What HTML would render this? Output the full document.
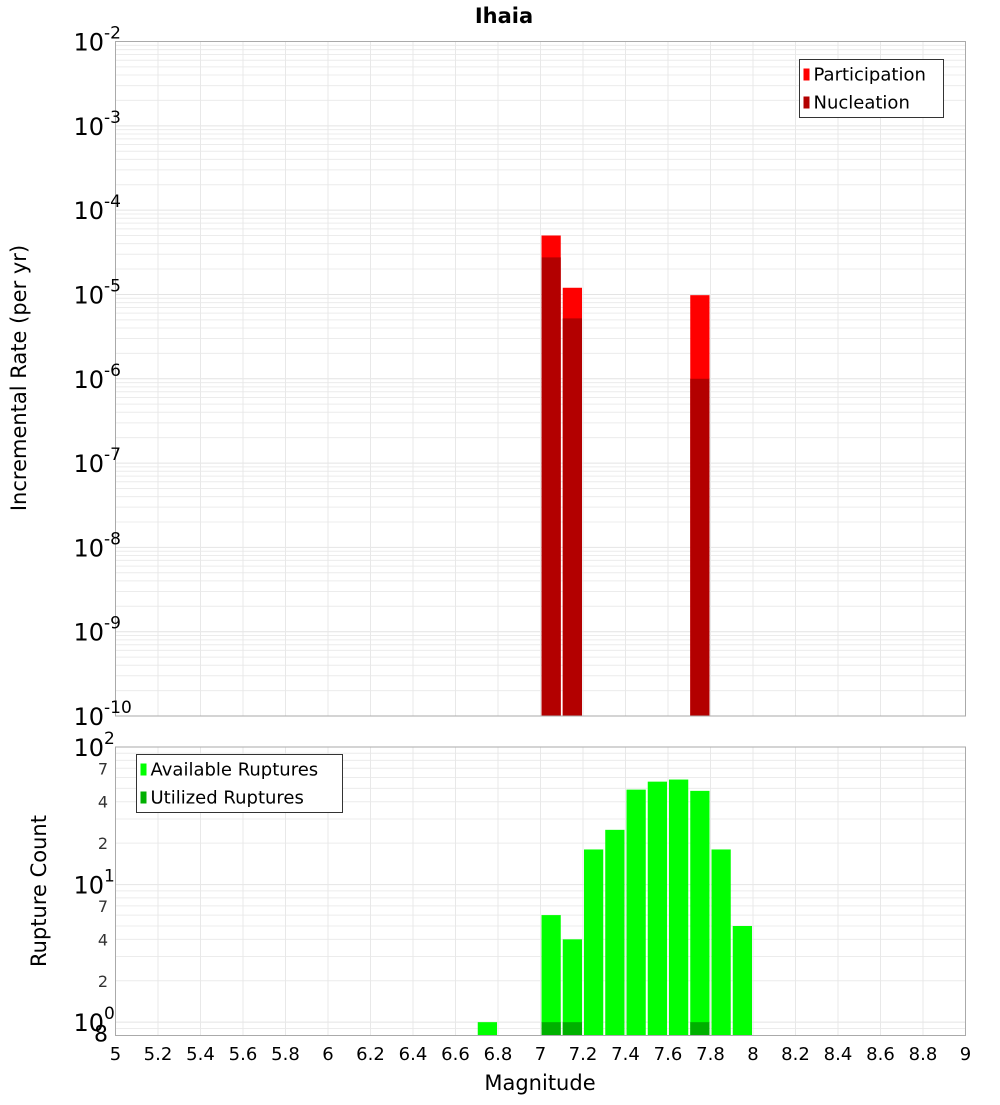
<!DOCTYPE html>
<html><head><meta charset="utf-8"><style>
body{margin:0;background:#fff;width:1000px;height:1100px;overflow:hidden}
svg{font-family:"DejaVu Sans","Liberation Sans",sans-serif}
</style></head><body>
<svg id="chart" width="1000" height="1100" xmlns="http://www.w3.org/2000/svg">
<text x="504" y="23" font-size="21" font-weight="bold" text-anchor="middle">Ihaia</text>
<text transform="translate(26,378) rotate(-90)" font-size="21" text-anchor="middle">Incremental Rate (per yr)</text>
<text transform="translate(46,891) rotate(-90)" font-size="21" text-anchor="middle">Rupture Count</text>
<text x="540" y="1090" font-size="21" text-anchor="middle">Magnitude</text>
<g id="g"></g>
</svg>
<script>
const partMags=[7.0,7.1,7.7];
const partRates=[5.0e-5,1.2e-5,9.8e-6];
const nuclMags=[7.0,7.1,7.7];
const nuclRates=[2.75e-5,5.2e-6,1.0e-6];
const availMags=[6.7,7.0,7.1,7.2,7.3,7.4,7.5,7.6,7.7,7.8,7.9];
const availCounts=[1,6,4,18,25,49,56,58,48,18,5];
const usedMags=[7.0,7.1,7.7];
const usedCounts=[1,1,1];
const xTicks=[5,5.2,5.4,5.6,5.8,6,6.2,6.4,6.6,6.8,7,7.2,7.4,7.6,7.8,8,8.2,8.4,8.6,8.8,9];
const topExps=[-2,-3,-4,-5,-6,-7,-8,-9,-10];
const NS='http://www.w3.org/2000/svg';
const g=document.getElementById('g');
const L=115.5,R=965.5,T1=41.5,B1=716,T2=747,B2=1035.5;
const x=m=>L+(m-5)/4*(R-L);
const y1=v=>T1+(-2-Math.log10(v))/8*(B1-T1);
const y2=v=>T2+(2-Math.log10(v))/(2-Math.log10(0.8))*(B2-T2);
function el(t,a,p){const e=document.createElementNS(NS,t);for(const k in a)e.setAttribute(k,a[k]);(p||g).appendChild(e);return e;}
// frames & grids
[[T1,B1,y1,1e-10,1e-2],[T2,B2,y2,0.8,100]].forEach(([T,B,yf,lo,hi],pi)=>{
  const bg=el('rect',{x:L,y:T,width:R-L,height:B-T,fill:'#fff'});
  
  
  for(let e=Math.floor(Math.log10(lo));e<Math.log10(hi);e++){for(let k=1;k<10;k++){const v=k*Math.pow(10,e);if(v<lo||v>hi)continue;const yy=yf(v);
    const gl=el('line',{x1:L,x2:R,y1:yy,y2:yy,stroke:k==1?'#e4e4e4':'#ececec','stroke-width':1});
    
    }}
  xTicks.forEach(m=>{const gl=el('line',{x1:x(m),x2:x(m),y1:T,y2:B,stroke:'#e8e8e8'});
    
    });
});
function bar(m,v,yf,B,fill,name){const r=el('rect',{x:x(m)+1,y:yf(v),width:x(m+0.1)-x(m)-2,height:B-yf(v),fill:fill});
  
  }
partMags.forEach((m,i)=>bar(m,partRates[i],y1,B1,'#ff0000','participation-bar'));
nuclMags.forEach((m,i)=>bar(m,nuclRates[i],y1,B1,'#b30000','nucleation-bar'));
availMags.forEach((m,i)=>bar(m,availCounts[i],y2,B2,'#00ff00','available-ruptures-bar'));
usedMags.forEach((m,i)=>bar(m,usedCounts[i],y2,B2,'#00b000','utilized-ruptures-bar'));
[[T1,B1],[T2,B2]].forEach(([T,B])=>{const f=el('rect',{x:L,y:T,width:R-L,height:B-T,fill:'none',stroke:'#aaa'});
  
  });
// top y labels
topExps.forEach(e=>{const yy=y1(Math.pow(10,e));
  const t=el('text',{x:104,y:yy+9,'font-size':24,'text-anchor':'end'});t.textContent='10';
  
  
  const s=el('text',{x:104,y:yy-3,'font-size':17});s.textContent=String(e);
  
  });
// bottom y labels
[[100,'2'],[10,'1'],[1,'0']].forEach(([v,e])=>{const yy=y2(v);
  const t=el('text',{x:104,y:yy+9,'font-size':24,'text-anchor':'end'});t.textContent='10';
  
  
  const s=el('text',{x:104,y:yy-3,'font-size':17});s.textContent=e;
  
  });
[[70,'7'],[40,'4'],[20,'2'],[7,'7'],[4,'4'],[2,'2'],[0.8,'8']].forEach(([v,s])=>{const yy=y2(v);
  const t=el('text',{x:108,y:yy+6,'font-size':v==0.8?22:16,'text-anchor':'end',fill:v==0.8?'#000':'#333'});t.textContent=s;
  
  });
xTicks.forEach(m=>{const t=el('text',{x:x(m),y:1060,'font-size':18,'text-anchor':'middle'});t.textContent=String(m);
  
  });
// legends
function legend(x0,y0,w,items,name){const lg=el('g',{});
  el('rect',{x:x0,y:y0,width:w,height:58,fill:'#fff',stroke:'#333'},lg);
  items.forEach(([c,s],i)=>{el('rect',{x:x0+4,y:y0+9+i*28,width:6,height:12,fill:c},lg);
    const t=el('text',{x:x0+14,y:y0+21+i*28,'font-size':18},lg);t.textContent=s;
    
    });}
legend(799.5,59.5,144,[['#ff0000','Participation'],['#b30000','Nucleation']],'top-legend');
legend(136.5,754.5,206,[['#00ff00','Available Ruptures'],['#00b000','Utilized Ruptures']],'bottom-legend');
</script>
</body></html>
